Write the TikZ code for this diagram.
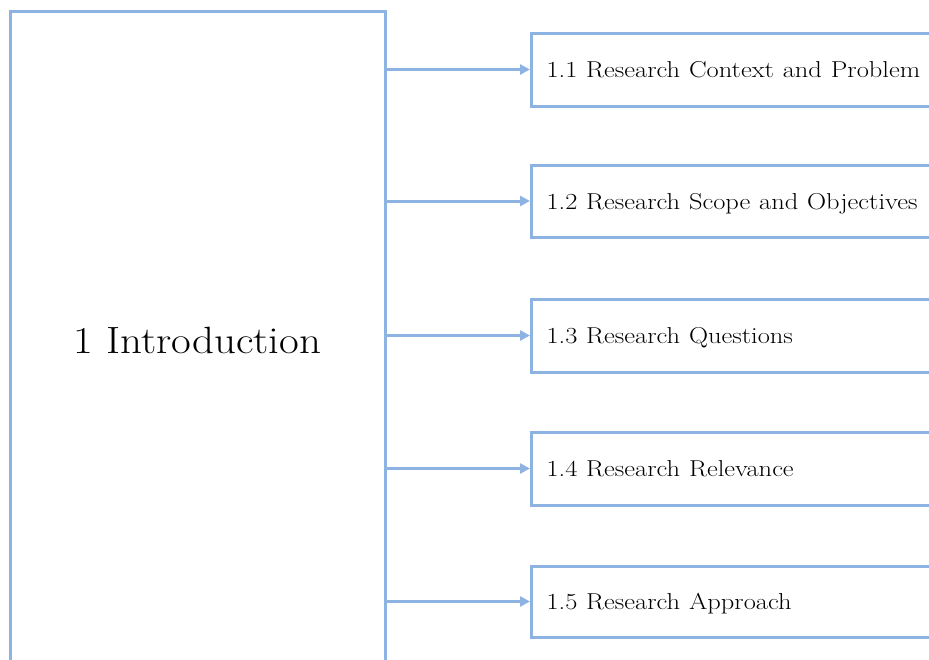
\documentclass[tikz,border=0pt]{standalone}
\usepackage{graphicx}
\usetikzlibrary{arrows.meta}
\definecolor{linkblue}{HTML}{8DB3E2}
% wide setting for the serif labels
\newcommand{\widelabel}[1]{\scalebox{1.13}[1]{#1}}
\newcommand{\seclabel}[1]{\raisebox{-2.5pt}{\scalebox{1.15}[1]{#1}}}
\begin{document}
\begin{tikzpicture}[x=1pt,y=-1pt,
  boxline/.style={draw=linkblue,line width=3pt},
  chapter/.style={boxline,minimum width=375pt,minimum height=658pt,inner sep=0pt,
    font=\fontsize{38}{44}\selectfont},
  section/.style={boxline,anchor=west,minimum height=73pt,inner xsep=15pt,inner ysep=0pt,
    text height=16pt,text depth=5pt,
    text width=400pt,align=left,font=\fontsize{23}{27}\selectfont},
  feed/.style={draw=linkblue,line width=3pt,-{Triangle[length=10pt,width=10pt]}}]
\useasboundingbox (0,0) rectangle (929,659);
\clip (0,0) rectangle (929,659);
\node[chapter] (intro) at (197.5,340) {\widelabel{1 Introduction}};
\node[section] (s1) at (530,69.5) {\seclabel{1.1 Research Context and Problem}};
\node[section,minimum height=72pt] (s2) at (530,201) {\seclabel{1.2 Research Scope and Objectives}};
\node[section] (s3) at (530,335.5) {\seclabel{1.3 Research Questions}};
\node[section] (s4) at (530,468.5) {\seclabel{1.4 Research Relevance}};
\node[section,minimum height=71pt] (s5) at (530,601.5) {\seclabel{1.5 Research Approach}};
\foreach \s in {s1,s2,s3,s4,s5}
  \draw[feed] (intro.east |- \s.west) -- (\s.west);
\end{tikzpicture}
\end{document}
